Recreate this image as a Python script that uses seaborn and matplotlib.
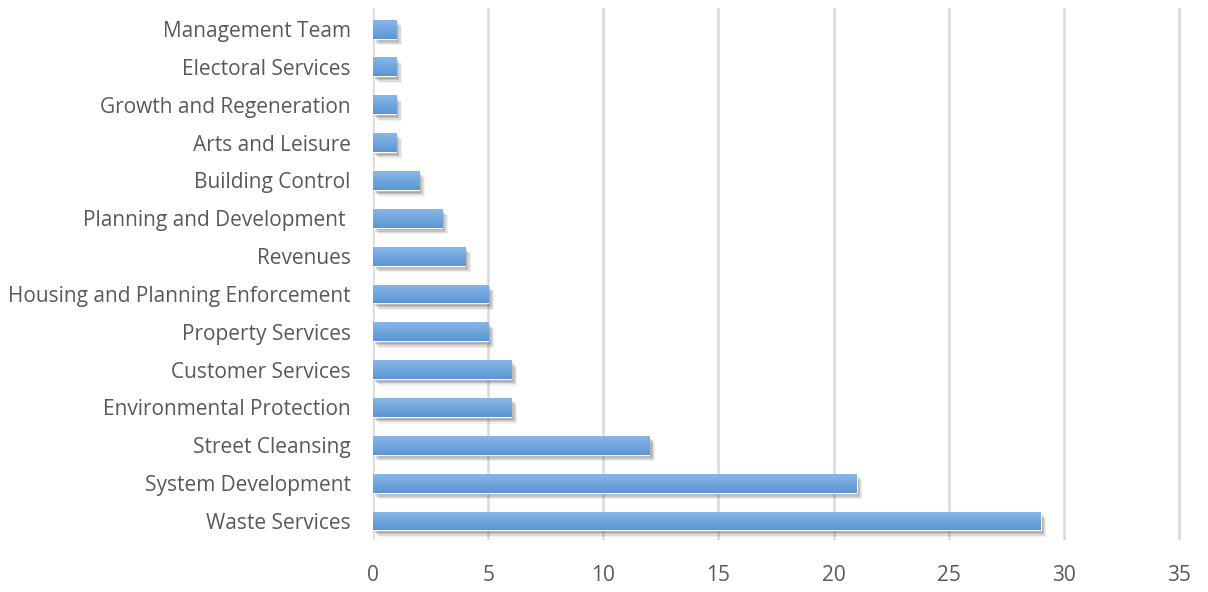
import matplotlib
matplotlib.use("Agg")
import matplotlib.pyplot as plt
import matplotlib.patheffects as pe
import numpy as np
import pandas as pd
import seaborn as sns

# ── Data ────────────────────────────────────────────────────────────────────
services = [
    "Management Team", "Electoral Services", "Growth and Regeneration",
    "Arts and Leisure", "Building Control", "Planning and Development ",
    "Revenues", "Housing and Planning Enforcement", "Property Services",
    "Customer Services", "Environmental Protection", "Street Cleansing",
    "System Development", "Waste Services",
]
counts = [1, 1, 1, 1, 2, 3, 4, 5, 5, 6, 6, 12, 21, 29]
x_ticks = [0, 5, 10, 15, 20, 25, 30, 35]

df = pd.DataFrame({"service": services, "count": counts})

sns.set_theme(style="white")
plt.rcParams["font.family"] = ["Open Sans", "DejaVu Sans"]

fig = plt.figure(figsize=(12.08, 5.92), dpi=100)
ax = fig.add_axes([0.3088, 0.088, 0.671, 0.898])

sns.barplot(data=df, x="count", y="service", order=services, orient="h",
            color="#6fa5dc", width=0.5, saturation=1, ax=ax)

# soft drop shadow (layered to fake a blur) + vertical gradient on each bar
grad = np.linspace(0, 1, 64).reshape(-1, 1)
cmap = matplotlib.colors.LinearSegmentedColormap.from_list(
    "bar", ["#88b7e8", "#5b96d2"])
shadow = [pe.SimplePatchShadow(offset=(o, -o * 1.2), shadow_rgbFace="#444444", alpha=a)
          for o, a in [(4.0, 0.08), (3.2, 0.12), (2.4, 0.16), (1.6, 0.2)]]
for bar in ax.patches:
    bar.set_path_effects(shadow + [pe.Normal()])
    x0, y0 = bar.get_x(), bar.get_y()
    w, h = bar.get_width(), bar.get_height()
    im = ax.imshow(grad, cmap=cmap, aspect="auto", extent=(x0, x0 + w, y0 + h, y0),
                   zorder=bar.get_zorder() + 0.1, interpolation="bilinear")
    im.set_clip_path(bar)

ax.set_xlim(0, 35.2)
ax.set_ylim(len(services) - 0.5, -0.55)
ax.set_xticks(x_ticks)
ax.xaxis.grid(True, color="#d9d9d9", linewidth=1.8)
ax.set_axisbelow(True)
for s in ax.spines.values():
    s.set_visible(False)
ax.set_xlabel("")
ax.set_ylabel("")
ax.tick_params(axis="y", length=0, pad=16, labelsize=15, labelcolor="#595959")
ax.tick_params(axis="x", length=0, pad=18, labelsize=15, labelcolor="#595959")

fig.savefig("out.png", dpi=100)
